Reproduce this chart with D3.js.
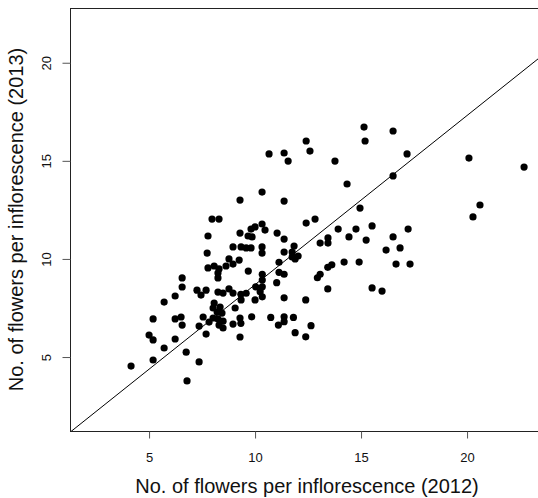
<!DOCTYPE html>
<html>
<head>
<meta charset="utf-8">
<script src="https://cdn.jsdelivr.net/npm/d3@7"></script>
<style>
  body { margin: 0; background: #fff; }
  svg { display: block; font-family: "Liberation Sans", Arial, sans-serif; }
</style>
</head>
<body>
<div id="chart"></div>
<script>
// flowers per inflorescence, 2012 (x) vs 2013 (y)
const flowers2012 = [
  15.14, 16.51, 12.41, 15.19, 12.59, 10.66, 11.37, 17.17, 20.09, 11.56, 13.77, 22.69,
  16.51, 14.34, 10.33, 9.29, 11.37, 20.61, 14.95, 20.28, 7.97, 8.30, 12.83, 12.41,
  10.33, 10.00, 15.52, 9.81, 13.92, 14.76, 17.22, 10.47, 11.04, 9.29, 7.78, 9.67,
  9.86, 14.43, 16.51, 11.37, 13.44, 15.24, 13.07, 13.44, 11.84, 8.96, 9.34, 9.58,
  9.81, 10.33, 7.74, 10.33, 11.37, 11.75, 11.75, 12.03, 11.89, 8.77, 9.25, 8.96,
  8.07, 7.78, 8.30, 8.63, 8.25, 8.25, 6.56, 6.56, 6.23, 5.71, 7.26, 7.45,
  7.69, 8.25, 8.49, 8.77, 8.96, 8.07, 8.02, 8.35, 8.21, 8.44, 9.06, 9.34,
  5.19, 6.23, 6.51, 6.56, 7.55, 7.83, 7.36, 8.02, 8.25, 8.49, 8.30, 8.49,
  8.96, 9.29, 9.29, 7.69, 5.00, 5.19, 6.23, 5.71, 6.75, 5.19, 4.15, 7.36,
  6.79, 9.68, 10.34, 10.34, 11.13, 11.13, 11.37, 11.02, 13.07, 12.94, 13.43, 13.62,
  9.33, 9.58, 10.03, 10.24, 10.34, 10.34, 10.00, 11.37, 12.39, 13.43, 9.33, 9.84,
  10.74, 11.37, 11.37, 11.10, 11.81, 12.64, 11.89, 12.39, 16.18, 16.84, 16.65, 17.31,
  15.52, 15.99, 14.91, 14.20
];
const flowers2013 = [
  16.72, 16.52, 16.01, 16.01, 15.50, 15.35, 15.40, 15.35, 15.14, 14.99, 14.99, 14.68,
  14.23, 13.82, 13.41, 13.00, 12.95, 12.75, 12.59, 12.14, 12.03, 12.03, 12.03, 11.83,
  11.78, 11.63, 11.68, 11.52, 11.52, 11.52, 11.52, 11.47, 11.32, 11.32, 11.17, 11.17,
  11.12, 11.12, 11.12, 11.01, 11.07, 10.96, 10.81, 10.81, 10.66, 10.61, 10.61, 10.56,
  10.56, 10.61, 10.30, 10.30, 10.35, 10.35, 10.10, 10.15, 10.00, 10.00, 9.94, 9.74,
  9.64, 9.54, 9.49, 9.64, 9.28, 9.03, 9.03, 8.57, 8.11, 7.80, 8.41, 8.16,
  8.41, 8.31, 8.26, 8.47, 8.26, 7.75, 7.50, 7.55, 7.29, 7.24, 7.50, 7.91,
  6.94, 6.94, 7.04, 6.63, 7.04, 6.78, 6.58, 6.99, 6.94, 6.83, 6.63, 6.48,
  6.68, 6.99, 6.02, 6.17, 6.12, 5.87, 5.92, 5.46, 5.25, 4.85, 4.54, 4.75,
  3.78, 9.38, 9.22, 8.92, 9.83, 9.32, 9.22, 8.79, 9.22, 9.04, 9.57, 9.70,
  8.20, 8.25, 8.58, 8.33, 8.58, 8.07, 7.91, 8.02, 7.91, 8.47, 6.72, 7.05,
  7.02, 7.05, 6.80, 6.63, 7.02, 6.60, 6.24, 6.03, 10.45, 10.56, 9.74, 9.74,
  8.52, 8.36, 9.84, 9.84
];
const xTicks = [5, 10, 15, 20];
const yTicks = [5, 10, 15, 20];
const xDomain = [1.27, 23.63];
const yDomain = [1.23, 22.79];
// fitted line: intercept, slope
const fitLine = [0.07, 0.862];
const xLabel = 'No. of flowers per inflorescence (2012)';
const yLabel = 'No. of flowers per inflorescence (2013)';

const width = 538, height = 498;
const margin = {top: 8, right: -6, bottom: 67, left: 70};

const x = d3.scaleLinear()
  .domain(xDomain)
  .range([margin.left, width - margin.right]);

const y = d3.scaleLinear()
  .domain(yDomain)
  .range([height - margin.bottom, margin.top]);

const svg = d3.select('#chart').append('svg')
  .attr('width', width)
  .attr('height', height);

svg.append('clipPath')
  .attr('id', 'plot-clip')
  .append('rect')
  .attr('x', x.range()[0])
  .attr('y', y.range()[1])
  .attr('width', x.range()[1] - x.range()[0])
  .attr('height', y.range()[0] - y.range()[1]);

const data = flowers2012.map((d, i) => ({x: d, y: flowers2013[i]}));

// points
svg.append('g')
  .attr('clip-path', 'url(#plot-clip)')
  .selectAll('circle')
  .data(data)
  .join('circle')
  .attr('cx', d => x(d.x))
  .attr('cy', d => y(d.y))
  .attr('r', 3.6)
  .attr('fill', '#000');

// fitted line
svg.append('line')
  .attr('clip-path', 'url(#plot-clip)')
  .attr('x1', x(xDomain[0]))
  .attr('y1', y(fitLine[0] + fitLine[1] * xDomain[0]))
  .attr('x2', x(xDomain[1]))
  .attr('y2', y(fitLine[0] + fitLine[1] * xDomain[1]))
  .attr('stroke', '#000')
  .attr('stroke-width', 1);

// plot box
svg.append('rect')
  .attr('x', x.range()[0] + 0.5)
  .attr('y', y.range()[1] + 0.5)
  .attr('width', x.range()[1] - x.range()[0])
  .attr('height', y.range()[0] - y.range()[1])
  .attr('fill', 'none')
  .attr('stroke', '#222')
  .attr('stroke-width', 1);

// x axis
const xAxis = svg.append('g')
  .attr('transform', `translate(0,${y.range()[0] + 0.5})`)
  .call(d3.axisBottom(x).tickValues(xTicks).tickSize(7).tickSizeOuter(0));
xAxis.select('.domain').remove();
xAxis.selectAll('.tick line').attr('stroke', '#555');
xAxis.selectAll('.tick text')
  .attr('y', 30)
  .attr('dy', 0)
  .attr('font-size', 13)
  .attr('font-family', '"Liberation Sans", Arial, sans-serif')
  .attr('fill', '#111');

// y axis
const yAxis = svg.append('g')
  .attr('transform', `translate(${x.range()[0] + 0.5},0)`)
  .call(d3.axisLeft(y).tickValues(yTicks).tickSize(8).tickSizeOuter(0));
yAxis.select('.domain').remove();
yAxis.selectAll('.tick line').attr('stroke', '#555');
yAxis.selectAll('.tick text')
  .attr('x', null)
  .attr('dy', null)
  .attr('transform', 'translate(-20,0) rotate(-90)')
  .attr('text-anchor', 'middle')
  .attr('font-size', 13)
  .attr('font-family', '"Liberation Sans", Arial, sans-serif')
  .attr('fill', '#111');

// axis titles
svg.append('text')
  .attr('x', (x.range()[0] + x.range()[1]) / 2)
  .attr('y', 492.5)
  .attr('text-anchor', 'middle')
  .attr('font-size', 20)
  .attr('fill', '#111')
  .text(xLabel);

svg.append('text')
  .attr('transform', `translate(23,${(y.range()[0] + y.range()[1]) / 2}) rotate(-90)`)
  .attr('text-anchor', 'middle')
  .attr('font-size', 20)
  .attr('fill', '#111')
  .text(yLabel);
</script>
</body>
</html>
